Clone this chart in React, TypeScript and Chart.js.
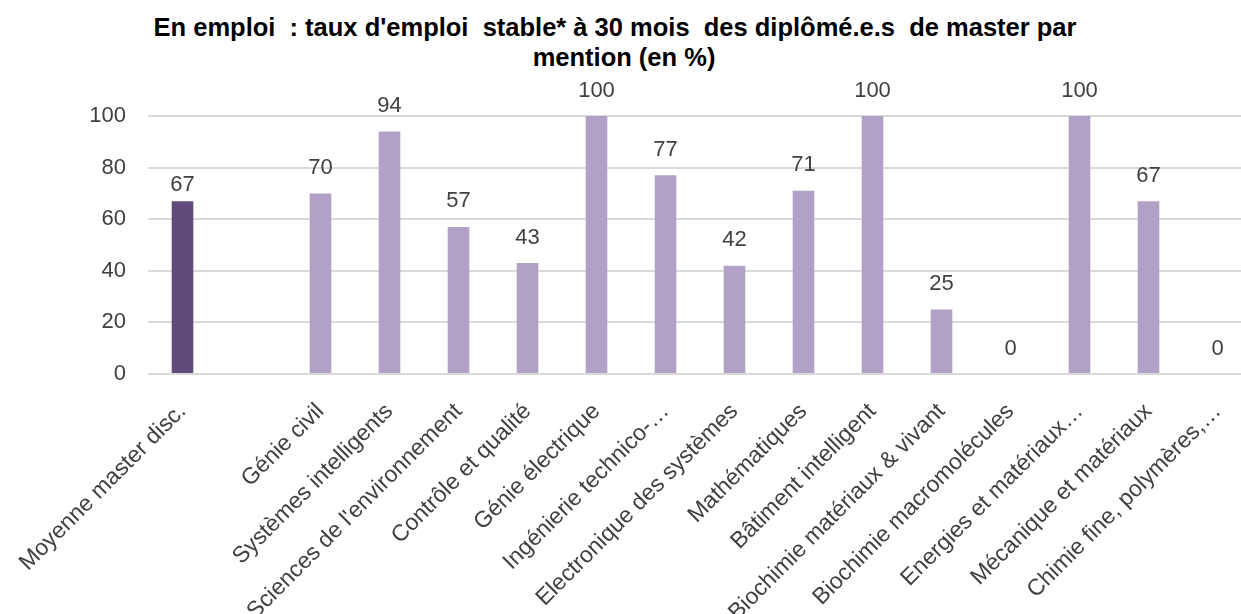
import React, { useEffect, useRef } from "react";
import { Chart, registerables } from "chart.js";

Chart.register(...registerables);

const titleLines = [
  "En emploi  : taux d'emploi  stable* à 30 mois  des diplômé.e.s  de master par",
  "mention (en %)",
];

const averageLabel = "Moyenne master disc.";
const averageValue = 67;

const mentionLabels = [
  "Génie civil",
  "Systèmes intelligents",
  "Sciences de l'environnement",
  "Contrôle et qualité",
  "Génie électrique",
  "Ingénierie technico-…",
  "Electronique des systèmes",
  "Mathématiques",
  "Bâtiment intelligent",
  "Biochimie matériaux & vivant",
  "Biochimie macromolécules",
  "Energies et matériaux…",
  "Mécanique et matériaux",
  "Chimie fine, polymères,…",
];
const mentionValues = [70, 94, 57, 43, 100, 77, 42, 71, 100, 25, 0, 100, 67, 0];

const yTicks = [0, 20, 40, 60, 80, 100];

const FONT = "'Liberation Sans', Arial, sans-serif";

const valueLabelPlugin = {
  id: "valueLabels",
  afterDatasetsDraw(chart: any) {
    const ctx = chart.ctx;
    chart.data.datasets.forEach((ds: any, i: number) => {
      const meta = chart.getDatasetMeta(i);
      meta.data.forEach((bar: any, j: number) => {
        const v = ds.data[j];
        if (v === null || v === undefined) return;
        ctx.save();
        ctx.font = `22px ${FONT}`;
        ctx.fillStyle = "#404040";
        ctx.textAlign = "center";
        ctx.textBaseline = "alphabetic";
        ctx.fillText(String(v), bar.x, bar.y - ds.labelGap);
        ctx.restore();
      });
    });
  },
};

export default function App() {
  const ref = useRef<HTMLCanvasElement>(null);

  useEffect(() => {
    const labels = [averageLabel, "", ...mentionLabels];
    const avgData = labels.map((_, i) => (i === 0 ? averageValue : null));
    const mentionData = labels.map((_, i) => (i >= 2 ? mentionValues[i - 2] : null));
    const W = 1280;
    const H = 720;
    const chart = new Chart(ref.current!, {
      type: "bar",
      data: {
        labels,
        datasets: [
          {
            label: "Moyenne",
            data: avgData,
            backgroundColor: "#604a7b",
            grouped: false,
            barPercentage: 0.313,
            categoryPercentage: 1,
            labelGap: 10,
          } as any,
          {
            label: "Mentions",
            data: mentionData,
            backgroundColor: "#b2a1c7",
            grouped: false,
            barPercentage: 0.313,
            categoryPercentage: 1,
            labelGap: 19.5,
          } as any,
        ],
      },
      options: {
        responsive: false,
        animation: false,
        devicePixelRatio: 1,
        layout: { padding: { left: 0, top: 116, right: W - 1252, bottom: 0 } },
        plugins: {
          legend: { display: false },
          title: { display: false },
          tooltip: { enabled: false },
        },
        scales: {
          x: {
            grid: { display: false },
            border: { display: false },
            ticks: {
              autoSkip: false,
              maxRotation: 45,
              minRotation: 45,
              padding: 16,
              labelOffset: 0,
              color: "#404040",
              font: { family: FONT, size: 23 },
            },
            afterFit: (scale: any) => {
              scale.height = H - 374;
              scale.paddingLeft = 0;
              scale.paddingRight = 0;
            },
          },
          y: {
            min: 0,
            max: 100,
            afterBuildTicks: (scale: any) => {
              scale.ticks = yTicks.map((v) => ({ value: v }));
            },
            grid: { color: "#d9d9d9", lineWidth: 2, drawTicks: false },
            border: { display: false },
            ticks: {
              padding: 22,
              color: "#404040",
              font: { family: FONT, size: 22 },
            },
            afterFit: (scale: any) => {
              scale.width = 148;
              scale.paddingTop = 0;
              scale.paddingBottom = 0;
            },
          },
        },
      },
      plugins: [valueLabelPlugin],
    });
    return () => chart.destroy();
  }, []);

  return (
    <div
      style={{
        position: "fixed",
        left: 0,
        top: 0,
        width: 1241,
        height: 614,
        overflow: "hidden",
        background: "#ffffff",
      }}
    >
      <div
        style={{
          position: "absolute",
          left: 0,
          top: 12,
          width: 1230,
          textAlign: "center",
          whiteSpace: "pre",
          fontFamily: FONT,
          fontWeight: "bold",
          fontSize: 25.5,
          lineHeight: "30px",
          color: "#000000",
        }}
      >
        {titleLines.map((t, i) => (
          <div key={i} style={{ position: "relative", left: i === 1 ? 9 : 0 }}>
            {t}
          </div>
        ))}
      </div>
      <canvas
        ref={ref}
        width={1280}
        height={720}
        style={{ position: "absolute", left: 0, top: 0, width: 1280, height: 720 }}
      />
    </div>
  );
}
